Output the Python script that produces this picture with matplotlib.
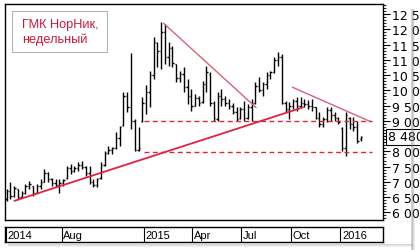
import numpy as np
import pandas as pd
import matplotlib
matplotlib.use('Agg')
import matplotlib.pyplot as plt
import matplotlib.dates as mdates
from matplotlib.ticker import MultipleLocator, FuncFormatter
from matplotlib.patches import Rectangle

plt.rcParams['font.family'] = ['Liberation Sans', 'DejaVu Sans']

# weekly OHLC, thousands of roubles, first week 2014-04-21
opens = [6.45, 6.70, 6.55, 6.75, 6.52, 6.62, 6.85, 6.85, 6.65, 6.85,
         7.00, 7.30, 7.10, 6.95, 6.90, 6.95, 7.12, 7.45, 7.35, 7.45,
         7.55, 7.50, 7.30, 7.00, 6.90, 7.12, 7.55, 7.95, 8.05, 8.12,
         8.45, 8.85, 9.80, 9.45, 9.00, 8.05, 8.98, 9.60, 9.95, 10.50,
         11.55, 11.30, 11.90, 11.10, 11.40, 10.85, 10.40, 10.55, 10.10, 9.80,
         9.50, 9.75, 9.62, 10.20, 10.55, 9.60, 9.05, 9.80, 9.70, 9.60,
         9.50, 9.30, 9.08, 9.40, 9.10, 9.45, 9.60, 10.15, 10.00, 10.20,
         10.50, 10.60, 11.00, 11.10, 9.60, 9.40, 9.50, 9.65, 9.50, 9.60,
         9.55, 9.50, 9.45, 9.10, 8.90, 9.05, 9.35, 9.20, 9.10, 8.75,
         8.10, 9.10, 8.90, 8.80, 8.40]
highs = [6.76, 6.98, 6.87, 6.78, 6.71, 6.93, 7.04, 6.88, 6.93, 7.09,
         7.42, 7.32, 7.14, 7.09, 7.09, 7.09, 7.53, 7.58, 7.53, 7.64,
         7.69, 7.53, 7.53, 7.09, 7.14, 7.64, 8.02, 8.18, 8.13, 8.62,
         8.84, 9.93, 9.93, 11.24, 9.06, 8.80, 9.77, 10.17, 10.63, 11.75,
         11.58, 12.24, 12.17, 11.58, 11.45, 10.86, 10.64, 10.75, 10.37, 10.04,
         9.88, 9.82, 10.30, 10.81, 10.60, 9.66, 9.93, 10.04, 9.82, 9.71,
         9.60, 9.44, 9.45, 9.66, 9.55, 9.71, 10.27, 10.43, 10.27, 10.59,
         10.64, 11.09, 11.25, 11.19, 9.66, 9.61, 9.71, 9.77, 9.77, 9.71,
         9.68, 9.71, 9.45, 9.28, 9.12, 9.45, 9.45, 9.30, 9.12, 8.79,
         9.28, 9.12, 9.12, 9.00, 8.51]
lows = [6.38, 6.43, 6.52, 6.43, 6.49, 6.60, 6.76, 6.54, 6.63, 6.76,
        6.98, 6.98, 6.87, 6.82, 6.65, 6.87, 7.10, 7.25, 7.31, 7.36,
        7.42, 7.20, 6.93, 6.82, 6.82, 7.10, 7.53, 7.91, 7.91, 8.07,
        8.18, 8.84, 9.28, 8.73, 8.01, 8.02, 8.95, 9.22, 9.45, 10.37,
        10.76, 10.70, 10.86, 10.79, 10.76, 10.27, 10.26, 9.93, 9.55, 9.33,
        9.48, 9.50, 9.60, 9.93, 9.50, 9.00, 9.00, 9.50, 9.50, 9.39,
        9.22, 9.00, 9.06, 9.00, 9.06, 9.00, 9.55, 9.94, 9.82, 10.04,
        10.37, 10.58, 10.80, 9.55, 9.28, 9.06, 9.39, 9.33, 9.45, 9.45,
        9.40, 9.33, 9.06, 8.79, 8.79, 8.96, 9.00, 9.00, 8.89, 8.02,
        7.85, 8.73, 8.67, 8.29, 8.35]
closes = [6.70, 6.55, 6.80, 6.52, 6.62, 6.85, 6.92, 6.65, 6.85, 7.00,
          7.30, 7.10, 6.95, 6.90, 6.95, 7.05, 7.45, 7.35, 7.45, 7.55,
          7.50, 7.30, 7.00, 6.90, 7.10, 7.55, 7.95, 8.05, 8.10, 8.45,
          8.80, 9.80, 9.45, 9.00, 8.05, 8.10, 9.60, 9.95, 10.50, 11.60,
          11.30, 11.90, 11.10, 11.40, 10.90, 10.40, 10.55, 10.10, 9.80, 9.50,
          9.75, 9.60, 10.20, 10.60, 9.60, 9.10, 9.80, 9.70, 9.60, 9.50,
          9.30, 9.05, 9.40, 9.10, 9.45, 9.60, 10.15, 10.00, 10.20, 10.50,
          10.60, 11.00, 11.10, 9.60, 9.40, 9.50, 9.65, 9.50, 9.60, 9.55,
          9.50, 9.45, 9.10, 8.90, 9.05, 9.35, 9.20, 9.10, 8.95, 8.10,
          9.20, 8.90, 8.80, 8.35, 8.48]

# trend lines (start, end)
support_dates = ['2014-05-06', '2015-10-23']
support_vals = [6.38, 9.44]
fall1_dates = ['2015-02-07', '2015-07-28']
fall1_vals = [12.19, 9.44]
fall2_dates = ['2015-10-04', '2016-02-25']
fall2_vals = [10.10, 8.98]
level_dates = ['2015-01-01', '2016-02-28']
levels = [9.00, 7.97]

month_marks = ['2014-08-01', '2015-01-01', '2015-04-01', '2015-07-01', '2015-10-01', '2016-01-01']
month_labels = ['Aug', '2015', 'Apr', 'Jul', 'Oct', '2016']

weeks = pd.date_range('2014-04-21', periods=len(closes), freq='7D')
x = mdates.date2num(weeks)
x0 = mdates.date2num(pd.Timestamp('2014-04-18'))
x1 = mdates.date2num(pd.Timestamp('2016-03-20'))

fig = plt.figure(figsize=(4.2, 2.51), dpi=100)
fig.patch.set_facecolor('white')

# drop shadow of the chart panel
for i, a in enumerate([0.35, 0.22, 0.12]):
    fig.patches.append(Rectangle((411 / 420 + i / 420, 0.0), 1.5 / 420, 1 - 10 / 251,
                                 transform=fig.transFigure, color='#888888', alpha=a, lw=0))
    fig.patches.append(Rectangle((8 / 420, 1 - (246 + i) / 251), 405 / 420, 1.5 / 251,
                                 transform=fig.transFigure, color='#888888', alpha=a, lw=0))

ax = fig.add_axes([5 / 420, 1 - 221 / 251, 378 / 420, 216 / 251])
ax.set_xlim(x0, x1)
ax.set_ylim(5.75, 12.83)

ax.vlines(x, lows, highs, color='black', lw=1.0)
ax.hlines(opens, x - 2.6, x, color='black', lw=1.0)
ax.hlines(closes, x, x + 2.6, color='black', lw=1.0)

ax.plot(mdates.datestr2num(support_dates), support_vals, color='#e2233f', lw=1.3)
ax.plot(mdates.datestr2num(fall1_dates), fall1_vals, color='#d4627a', lw=1.0)
ax.plot(mdates.datestr2num(fall2_dates), fall2_vals, color='#d4627a', lw=1.0)
for lv in levels:
    ax.plot(mdates.datestr2num(level_dates), [lv, lv], color='#d8283a', lw=1.0,
            dashes=(3.5, 2.5))


def price_label(v, p):
    # the last-price marker takes the place of the nearest label
    if abs(v - closes[-1]) < 0.25:
        return ''
    return '{:,}'.format(int(round(v * 1000))).replace(',', ' ')


ax.yaxis.tick_right()
ax.yaxis.set_major_locator(MultipleLocator(0.5))
ax.yaxis.set_minor_locator(MultipleLocator(0.1))
ax.yaxis.set_major_formatter(FuncFormatter(price_label))
ax.tick_params(axis='y', which='major', length=5, width=0.8, pad=1.5,
               labelsize=9, colors='black', labelfontfamily='DejaVu Sans')
ax.tick_params(axis='y', which='minor', length=2.5, width=0.6)
ax.set_xticks([])
for s in ax.spines.values():
    s.set_linewidth(1.0)
    s.set_color('black')

# last price marker
ax.text(1.012, closes[-1], '8 480', transform=ax.get_yaxis_transform(),
        fontsize=9, family='DejaVu Sans', va='center', ha='left', clip_on=False,
        bbox=dict(boxstyle='square,pad=0.12', fc='white', ec='black', lw=0.8))

# caption box
ax.add_patch(Rectangle((0.0185, 0.778), 0.252, 0.19, transform=ax.transAxes,
                       fc='white', ec='#b4b4b4', lw=0.8, zorder=5))
ax.text(0.045, 0.874, 'ГМК НорНик,\nнедельный', transform=ax.transAxes,
        fontsize=9.2, color='#cc1a3c', va='center', ha='left', linespacing=1.25,
        zorder=6)

# date strip
axd = fig.add_axes([5 / 420, 1 - 242.5 / 251, 378 / 420, 14.5 / 251])
axd.set_xlim(x0, x1)
axd.set_ylim(0, 1)
axd.set_xticks([])
axd.set_yticks([])
for s in axd.spines.values():
    s.set_linewidth(1.0)
    s.set_color('black')
axd.axvline(x0 + 1.6, color='black', lw=0.8)
axd.text(x0 + 5, 0.45, '2014', fontsize=8, va='center', ha='left')
for d, lab in zip(mdates.datestr2num(month_marks), month_labels):
    axd.axvline(d, color='black', lw=0.8)
    axd.text(d + 3, 0.45, lab, fontsize=8, va='center', ha='left')

fig.savefig('out.png', dpi=100, facecolor='white')
